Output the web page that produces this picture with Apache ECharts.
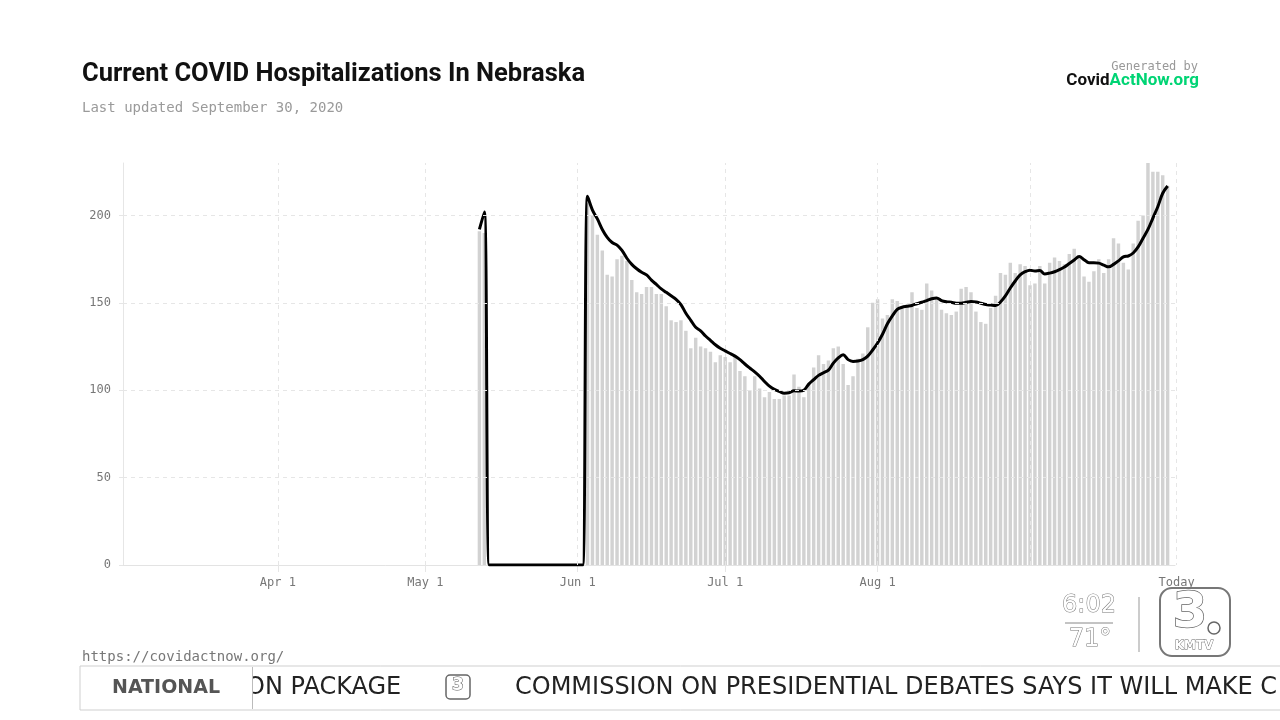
<!DOCTYPE html>
<html>
<head>
<meta charset="utf-8">
<script src="https://cdn.jsdelivr.net/npm/echarts@6/dist/echarts.min.js"></script>
<style>
html,body{margin:0;padding:0;background:#fff;}
#chart{width:1280px;height:720px;}
</style>
</head>
<body>
<div id="chart"></div>
<script>
// ---- Data ----
// Axis covers Mar 1 .. Sep 30, 2020 (one category per day)
const axisStart = '2020-03-01';
const axisEnd = '2020-09-30';
// first day with data
const dataStart = '2020-05-12';
// Daily current hospitalizations (bars), starting May 12 (null = no report)
const hospitalized = [
  191, 190,
  null, null, null, null, null, null, null, null, null, null,
  null, null, null, null, null, null, null, null, null, null,
  207, 200, 189, 180, 166, 165, 175, 177, 174, 163,
  156, 155, 159, 159, 155, 155, 148, 140, 139, 140,
  134, 124, 130, 125, 124, 122, 116, 120, 119, 116,
  119, 111, 108, 100, 108, 101, 96, 99, 95, 95,
  97, 97, 109, 102, 96, 104, 113, 120, 115, 117,
  124, 125, 115, 103, 108, 118, 121, 136, 150, 152,
  141, 143, 152, 151, 148, 149, 156, 147, 146, 161,
  157, 153, 146, 144, 143, 145, 158, 159, 156, 145,
  139, 138, 147, 154, 167, 166, 173, 167, 172, 171,
  160, 161, 171, 161, 173, 176, 174, 172, 178, 181,
  177, 165, 162, 168, 175, 167, 175, 187, 184, 173,
  169, 184, 197, 200, 230, 225, 225, 223, 217
];
// Smoothed trend line, starting May 12
const trend = [
  192, 202,
  0, 0, 0, 0, 0, 0, 0, 0, 0, 0,
  0, 0, 0, 0, 0, 0, 0, 0, 0, 0,
  211, 203, 198, 192, 187.5, 184.5, 183, 180, 175.5, 172,
  169.5, 167.5, 166, 163, 160.5, 158, 156, 154, 152, 149,
  144, 140, 136, 134, 131, 128.5, 126, 124, 122.5, 121,
  119.5, 117.5, 115, 112.7, 110.5, 108, 105, 102.3, 100.5, 99.3,
  98.3, 98.5, 99.7, 99.5, 100, 103.5, 106, 108.5, 110, 111.5,
  115.5, 118.5, 120.3, 117.5, 116.5, 116.7, 117.5, 119.5, 123, 127,
  132, 138, 142.5, 146.3, 147.5, 148, 148.5, 149.5, 150.3, 151.3,
  152.3, 152.8, 151.3, 150.6, 150.3, 149.8, 149.8, 150.3, 150.8, 150.5,
  149.8, 149, 148.7, 148.4, 150.5, 154, 158.5, 162.5, 166, 167.8,
  168.7, 168.2, 168.5, 166.5, 167, 167.8, 169, 170.5, 172.5, 174.5,
  176.5, 174.7, 172.9, 172.9, 172.7, 171.6, 170.6, 172, 174, 176.3,
  176.8, 178.5, 182, 187, 192, 198.5, 205, 212.7, 216.8
];
// Tick labels
const xTickLabels = {
  '2020-04-01': 'Apr 1',
  '2020-05-01': 'May 1',
  '2020-06-01': 'Jun 1',
  '2020-07-01': 'Jul 1',
  '2020-08-01': 'Aug 1',
  '2020-09-30': 'Today'
};
const xGridDates = ['2020-04-01','2020-05-01','2020-06-01','2020-07-01','2020-08-01','2020-09-01'];
const yTicks = [0, 50, 100, 150, 200];
const yMax = 230;

// ---- Build categories (one per day) ----
function iso(d){
  const m = d.getUTCMonth()+1, day = d.getUTCDate();
  return d.getUTCFullYear() + '-' + (m<10?'0':'') + m + '-' + (day<10?'0':'') + day;
}
const categories = [];
for (let d = new Date(axisStart + 'T00:00:00Z'); iso(d) <= axisEnd; d.setUTCDate(d.getUTCDate()+1)) {
  categories.push(iso(d));
}
const offset = categories.indexOf(dataStart);
const barData = categories.map((c, i) => {
  const j = i - offset;
  return (j >= 0 && j < hospitalized.length) ? hospitalized[j] : null;
});
const lineData = categories.map((c, i) => {
  const j = i - offset;
  return (j >= 0 && j < trend.length) ? trend[j] : null;
});

const mono = '"DejaVu Sans Mono", "Liberation Mono", monospace';
const chart = echarts.init(document.getElementById('chart'), null, {renderer: 'canvas'});

const gridLineStyle = {type: [4, 4], color: '#e6e6e6', width: 1};

chart.setOption({
  animation: false,
  backgroundColor: '#ffffff',
  grid: {left: 123, right: 105, top: 163, bottom: 155, containLabel: false},
  xAxis: {
    type: 'category',
    data: categories,
    boundaryGap: true,
    axisLine: {show: true, lineStyle: {color: '#e3e3e3', width: 1}},
    axisTick: {
      show: true, alignWithLabel: true, length: 7,
      interval: (i, v) => xTickLabels[v] !== undefined && v !== axisEnd,
      lineStyle: {color: '#e6e6e6'}
    },
    axisLabel: {
      interval: (i, v) => xTickLabels[v] !== undefined,
      formatter: v => (v === axisEnd ? '{t|' + xTickLabels[v] + '}' : (xTickLabels[v] || '')),
      rich: {t: {color: '#777', fontFamily: mono, fontSize: 12, padding: [0, 0, 0, 8]}},
      color: '#777', fontFamily: mono, fontSize: 12, margin: 12
    },
    splitLine: {show: false}
  },
  yAxis: {
    type: 'value',
    min: 0, max: yMax, interval: 50,
    axisLine: {show: true, lineStyle: {color: '#e6e6e6', width: 1}},
    axisTick: {show: true, length: 8, customValues: yTicks, lineStyle: {color: '#e6e6e6', type: [4, 4]}},
    axisLabel: {
      customValues: yTicks,
      formatter: v => (v % 50 === 0 ? String(v) : ''),
      color: '#777', fontFamily: mono, fontSize: 12, margin: 12
    },
    splitLine: {show: false}
  },
  series: [
    {
      name: 'grid', type: 'line', data: [], z: 1, silent: true,
      markLine: {
        silent: true, symbol: 'none', animation: false,
        label: {show: false},
        lineStyle: gridLineStyle,
        data: yTicks.filter(v => v > 0).map(v => ({yAxis: v}))
          .concat(xGridDates.map(d => ({xAxis: d})))
      }
    },
    {
      name: 'Hospitalized', type: 'bar', data: barData, z: 2,
      barCategoryGap: '30%',
      itemStyle: {color: '#d2d2d2'},
      silent: true
    },
    {
      name: 'Trend', type: 'line', data: lineData, z: 3,
      smooth: 0.35, showSymbol: false, symbol: 'none', connectNulls: false,
      lineStyle: {color: '#000', width: 3},
      silent: true
    }
  ],
  graphic: [
    // right border grid line ("Today")
    {type: 'line', shape: {x1: 1176.5, y1: 163, x2: 1176.5, y2: 565}, style: {stroke: '#e6e6e6', lineWidth: 1, lineDash: [4, 4]}, z: 0},
    {type: 'text', x: 82, y: 75, style: {text: 'Current COVID Hospitalizations In Nebraska', font: 'bold 25.5px Roboto', fill: '#111', align: 'left', verticalAlign: 'middle', textAlign: 'left', textVerticalAlign: 'middle'}},
    {type: 'text', x: 82, y: 108, style: {text: 'Last updated September 30, 2020', font: '14px ' + mono, fill: '#9a9a9a', align: 'left', verticalAlign: 'middle', textAlign: 'left', textVerticalAlign: 'middle'}},
    {type: 'text', x: 1198, y: 67, style: {text: 'Generated by', font: '12px ' + mono, fill: '#999', align: 'right', verticalAlign: 'middle', textAlign: 'right', textVerticalAlign: 'middle'}},
    {type: 'text', x: 1199, y: 81, style: {
      text: '{a|Covid}{b|ActNow.org}', align: 'right', verticalAlign: 'middle', textAlign: 'right', textVerticalAlign: 'middle',
      rich: {a: {font: 'bold 17px Roboto', fill: '#111', color: '#111'}, b: {font: 'bold 17px Roboto', fill: '#00d474', color: '#00d474'}}
    }},
    {type: 'text', x: 82, y: 657, style: {text: 'https://covidactnow.org/', font: '14px ' + mono, fill: '#777', align: 'left', verticalAlign: 'middle', textAlign: 'left', textVerticalAlign: 'middle'}},

    // TV overlay: clock / temperature / station logo
    {type: 'text', x: 1089, y: 606, style: {text: '6:02', font: '24px "DejaVu Sans"', fill: '#fff', stroke: '#777', lineWidth: 1, align: 'center', verticalAlign: 'middle', textAlign: 'center', textVerticalAlign: 'middle'}},
    {type: 'line', shape: {x1: 1065, y1: 623, x2: 1113, y2: 623}, style: {stroke: '#888', lineWidth: 1}},
    {type: 'text', x: 1090, y: 640, style: {text: '71°', font: '24px "DejaVu Sans"', fill: '#fff', stroke: '#777', lineWidth: 1, align: 'center', verticalAlign: 'middle', textAlign: 'center', textVerticalAlign: 'middle'}},
    {type: 'line', shape: {x1: 1139, y1: 597, x2: 1139, y2: 652}, style: {stroke: '#999', lineWidth: 1}},
    {type: 'rect', shape: {x: 1160, y: 588, width: 70, height: 68, r: 12}, style: {fill: '#fff', stroke: '#777', lineWidth: 2}},
    {type: 'circle', shape: {cx: 1214, cy: 628, r: 6}, style: {fill: '#fff', stroke: '#666', lineWidth: 1.5}},
    {type: 'text', x: 1190, y: 614, style: {text: '3', font: 'bold 50px "DejaVu Sans"', fill: '#fff', stroke: '#666', lineWidth: 1.5, align: 'center', verticalAlign: 'middle', textAlign: 'center', textVerticalAlign: 'middle'}},
    {type: 'text', x: 1194, y: 646, style: {text: 'KMTV', font: 'bold 12px "DejaVu Sans"', fill: '#fff', stroke: '#666', lineWidth: 0.8, align: 'center', verticalAlign: 'middle', textAlign: 'center', textVerticalAlign: 'middle'}},

    // TV overlay: news ticker
    {type: 'rect', shape: {x: 80, y: 666, width: 1210, height: 44}, style: {fill: '#fff', stroke: '#cfcfcf', lineWidth: 1}},
    {type: 'text', x: 246, y: 688, style: {text: 'ON PACKAGE', font: '24px "DejaVu Sans"', fill: '#222', align: 'left', verticalAlign: 'middle', textAlign: 'left', textVerticalAlign: 'middle'}},
    {type: 'rect', shape: {x: 81, y: 667, width: 171, height: 42}, style: {fill: '#fff'}},
    {type: 'text', x: 166, y: 688, style: {text: 'NATIONAL', font: 'bold 19px "DejaVu Sans"', fill: '#555', align: 'center', verticalAlign: 'middle', textAlign: 'center', textVerticalAlign: 'middle'}},
    {type: 'line', shape: {x1: 252.5, y1: 667, x2: 252.5, y2: 709}, style: {stroke: '#bbb', lineWidth: 1}},
    {type: 'rect', shape: {x: 446, y: 675, width: 24, height: 24, r: 4}, style: {fill: '#fff', stroke: '#666', lineWidth: 1.5}},
    {type: 'text', x: 458, y: 686, style: {text: '3', font: 'bold 17px "DejaVu Sans"', fill: '#fff', stroke: '#555', lineWidth: 1, align: 'center', verticalAlign: 'middle', textAlign: 'center', textVerticalAlign: 'middle'}},
    {type: 'text', x: 515, y: 688, style: {text: 'COMMISSION ON PRESIDENTIAL DEBATES SAYS IT WILL MAKE C', font: '24px "DejaVu Sans"', fill: '#222', align: 'left', verticalAlign: 'middle', textAlign: 'left', textVerticalAlign: 'middle'}}
  ]
});
</script>
</body>
</html>
